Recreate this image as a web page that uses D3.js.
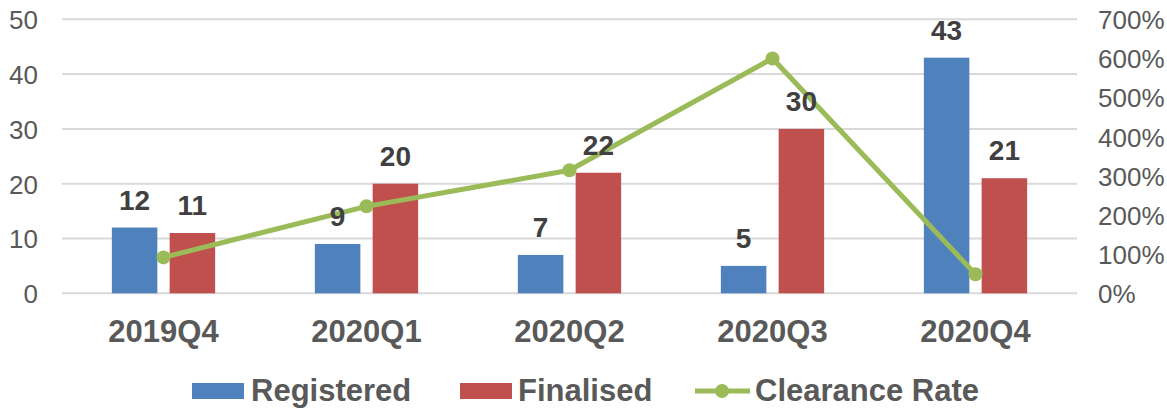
<!DOCTYPE html>
<html>
<head>
<meta charset="utf-8">
<script src="https://cdn.jsdelivr.net/npm/d3@7"></script>
<style>
  body { margin: 0; background: #fff; }
  text { font-family: Arial, "Liberation Sans", sans-serif; }
</style>
</head>
<body>
<script>
// data
var quarters = ["2019Q4", "2020Q1", "2020Q2", "2020Q3", "2020Q4"];
var registered = [12, 9, 7, 5, 43];
var finalised = [11, 20, 22, 30, 21];
var clearanceRate = [0.917, 2.222, 3.143, 6.0, 0.488];
var leftTicks = [0, 10, 20, 30, 40, 50];
var rightTicks = [0, 1, 2, 3, 4, 5, 6, 7];

var w = 1167, h = 408;
var plot = {left: 62, right: 1077, top: 19.3, bottom: 293.3};

var svg = d3.select("body")
    .append("svg")
    .attr("width", w)
    .attr("height", h);

// scales
var x = d3.scaleBand()
    .domain(quarters)
    .range([plot.left, plot.right]);

var y = d3.scaleLinear()
    .domain([0, 50])
    .range([plot.bottom, plot.top]);

var y2 = d3.scaleLinear()
    .domain([0, 7])
    .range([plot.bottom, plot.top]);

var barW = 45.5, barGap = 12.3;

// gridlines
svg.append("g")
    .selectAll("line")
    .data(leftTicks)
    .enter()
    .append("line")
    .attr("x1", plot.left)
    .attr("x2", plot.right)
    .attr("y1", function(d){ return y(d); })
    .attr("y2", function(d){ return y(d); })
    .attr("stroke", "#d9d9d9")
    .attr("stroke-width", 2);

// left axis
var leftAxis = svg.append("g")
    .attr("transform", "translate(" + plot.left + ",0)")
    .call(d3.axisLeft(y).tickValues(leftTicks).tickSize(0).tickPadding(24));
leftAxis.select(".domain").remove();
leftAxis.selectAll("text")
    .attr("fill", "#595959")
    .style("font-size", "26px")
    .attr("dy", "0.36em");

// right axis
var rightAxis = svg.append("g")
    .attr("transform", "translate(" + plot.right + ",0)")
    .call(d3.axisRight(y2).tickValues(rightTicks).tickSize(0).tickPadding(21)
        .tickFormat(function(d){ return d3.format(".0%")(d); }));
rightAxis.select(".domain").remove();
rightAxis.selectAll("text")
    .attr("fill", "#595959")
    .style("font-size", "26px")
    .attr("dy", "0.36em");

// category labels
svg.append("g")
    .selectAll("text")
    .data(quarters)
    .enter()
    .append("text")
    .attr("x", function(d){ return x(d) + x.bandwidth() / 2; })
    .attr("y", 342)
    .attr("text-anchor", "middle")
    .attr("fill", "#595959")
    .style("font-size", "31px")
    .style("font-weight", "bold")
    .text(function(d){ return d; });

// bars
function barX(i, k) {
    var c = x(quarters[i]) + x.bandwidth() / 2;
    return k === 0 ? c - barGap / 2 - barW : c + barGap / 2;
}

var series = [
    {name: "Registered", values: registered, color: "#4f81bd"},
    {name: "Finalised", values: finalised, color: "#c0504d"}
];

series.forEach(function(s, k){
    svg.append("g")
        .selectAll("rect")
        .data(s.values)
        .enter()
        .append("rect")
        .attr("x", function(d, i){ return barX(i, k); })
        .attr("y", function(d){ return y(d); })
        .attr("width", barW)
        .attr("height", function(d){ return y(0) - y(d); })
        .attr("fill", s.color);
});

// clearance rate line
var line = d3.line()
    .x(function(d, i){ return x(quarters[i]) + x.bandwidth() / 2; })
    .y(function(d){ return y2(d); });

svg.append("path")
    .datum(clearanceRate)
    .attr("d", line)
    .attr("fill", "none")
    .attr("stroke", "#9bbb59")
    .attr("stroke-width", 5);

svg.append("g")
    .selectAll("circle")
    .data(clearanceRate)
    .enter()
    .append("circle")
    .attr("cx", function(d, i){ return x(quarters[i]) + x.bandwidth() / 2; })
    .attr("cy", function(d){ return y2(d); })
    .attr("r", 7)
    .attr("fill", "#9bbb59");

// bar value labels, drawn on top of the line
series.forEach(function(s, k){
    svg.append("g")
        .selectAll("text")
        .data(s.values)
        .enter()
        .append("text")
        .attr("x", function(d, i){ return barX(i, k) + barW / 2; })
        .attr("y", function(d){ return y(d) - 18; })
        .attr("text-anchor", "middle")
        .attr("fill", "#404040")
        .style("font-size", "28px")
        .style("font-weight", "bold")
        .text(function(d){ return d; });
});

// legend
var legend = svg.append("g");

legend.append("rect")
    .attr("x", 192).attr("y", 383).attr("width", 52).attr("height", 16)
    .attr("fill", "#4f81bd");
legend.append("text")
    .attr("x", 251).attr("y", 401)
    .text("Registered");

legend.append("rect")
    .attr("x", 460).attr("y", 383).attr("width", 52).attr("height", 16)
    .attr("fill", "#c0504d");
legend.append("text")
    .attr("x", 518).attr("y", 401)
    .text("Finalised");

legend.append("line")
    .attr("x1", 695).attr("x2", 750).attr("y1", 391).attr("y2", 391)
    .attr("stroke", "#9bbb59").attr("stroke-width", 5);
legend.append("circle")
    .attr("cx", 722).attr("cy", 391).attr("r", 7)
    .attr("fill", "#9bbb59");
legend.append("text")
    .attr("x", 755).attr("y", 401)
    .text("Clearance Rate");

legend.selectAll("text")
    .attr("fill", "#595959")
    .style("font-size", "31px")
    .style("font-weight", "bold");
</script>
</body>
</html>
